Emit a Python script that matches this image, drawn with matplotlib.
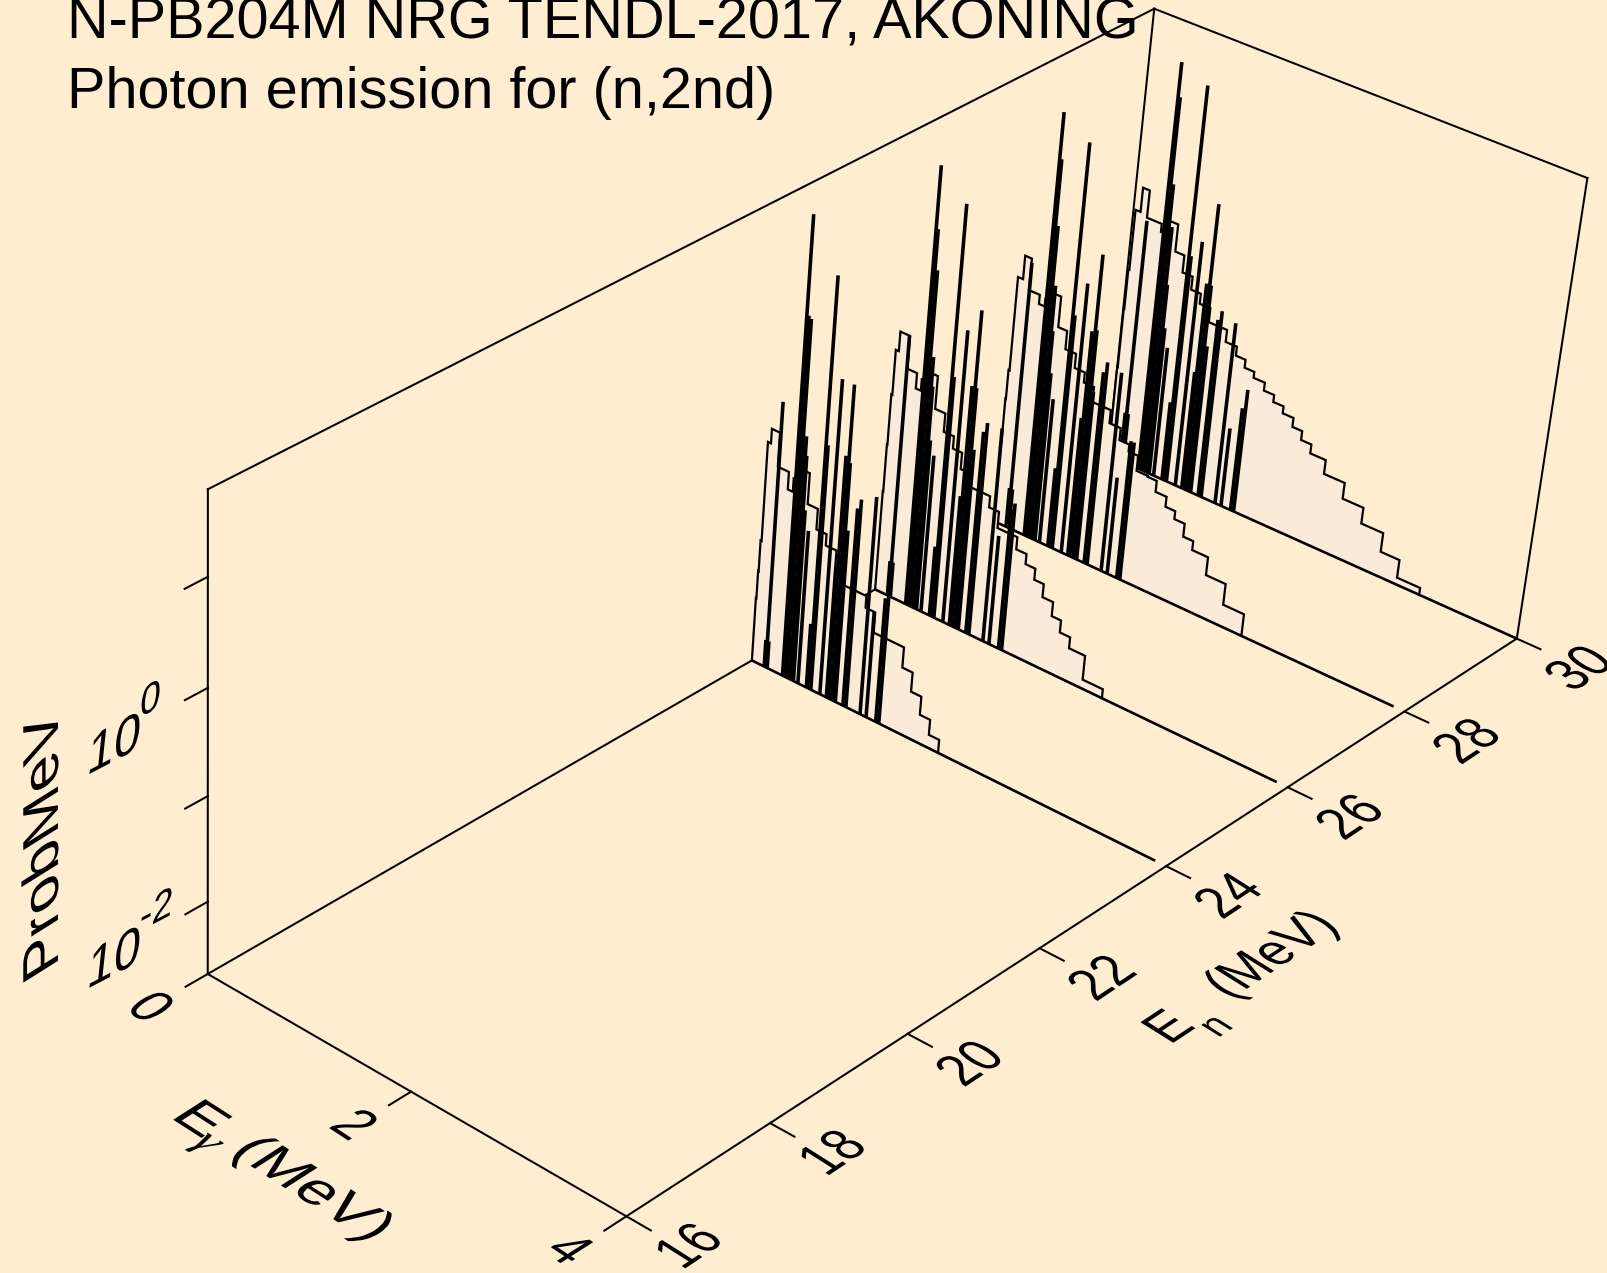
import matplotlib
matplotlib.use('Agg')
import matplotlib.pyplot as plt
import matplotlib.patheffects as pe
from matplotlib.transforms import Affine2D
import numpy as np

plt.rcParams['font.family'] = ['Liberation Sans', 'DejaVu Sans']

BG = '#FFEDD1'
FILL = '#FAEBD9'

# axis ranges
eg_range = (0.0, 4.0)
en_range = (16.0, 30.0)
logp_range = (-2.70, 1.77)

eg_ticks = [0, 2, 4]
en_ticks = [16, 18, 20, 22, 24, 26, 28, 30]
logp_ticks = [-2, -1, 0, 1]

# continuum, log10(prob/MeV) per bin
edges_24 = [0, .005, .01, .02, .05, .13, .24, .29, .35, .44, .54, .64, .745, .84, 1.06, 1.155, 1.45, 1.55, 1.65, 1.75, 1.85]
logp_24 = [-2.07, -1.795, -1.49, -.52, -.38, -.71, -.88, -.75, -.63, -.93, -1.13, -1.24, -1.40, -1.535, -1.65, -1.85, -2.05, -2.24, -2.42, -2.57]

edges_26 = [0, .005, .01, .02, .05, .145, .24, .29, .37, .44, .54, .64, .73, .84, 1.03, 1.126, 1.32, 1.42, 1.515, 1.607, 1.71, 1.80, 1.90, 2.055, 2.25]
logp_26 = [-1.70, -1.23, -.73, -.29, -.10, -.42, -.57, -.46, -.36, -.68, -.86, -.98, -1.14, -1.27, -1.38, -1.54, -1.66, -1.76, -1.87, -2.0, -2.14, -2.26, -2.37, -2.61]

edges_28 = [0, .005, .01, .02, .07, .136, .243, .30, .365, .447, .535, .64, .74, .84, 1.02, 1.13, 1.226, 1.32, 1.43, 1.518, 1.625, 1.72, 1.82, 1.917, 2.07, 2.26, 2.46]
logp_28 = [-1.89, -1.44, -1.15, -.22, .01, -.30, -.39, -.32, -.23, -.53, -.71, -.85, -.95, -1.10, -1.23, -1.35, -1.42, -1.57, -1.58, -1.69, -1.79, -1.87, -2.0, -2.09, -2.27, -2.48]

edges_30 = [0, .005, .01, .02, .07, .137, .284, .36, .44, .53, .63, .725, .83, 1.01, 1.12, 1.215, 1.31, 1.42, 1.52, 1.62, 1.725, 1.82, 1.92, 2.07, 2.27, 2.47, 2.68, 2.86, 3.08]
logp_30 = [-1.78, -1.18, -.78, -.18, .06, -.21, -.29, -.15, -.42, -.59, -.72, -.82, -.96, -1.08, -1.17, -1.25, -1.31, -1.39, -1.46, -1.53, -1.62, -1.71, -1.80, -1.94, -2.10, -2.26, -2.45, -2.63]

# discrete lines, same energies for every En
line_eg = [.125, .14, .155, .31, .33, .355, .385, .40, .42, .465, .55, .575, .595, .685, .75, .77, .80, .815, .84, .915, .945, 1.085, 1.145, 1.24, 1.27]
line_24 = [-2.43, -.08, -2.43, 1.75, .82, .80, -.3, -.48, -1.0, -1.18, -2.06, 1.30, -.29, .38, -1.4, -.31, .38, -.36, -1.0, -.75, -.65, -.56, -1.65, -1.47, -1.42]
line_26 = [-2.35, -.1, -2.35, 1.59, 1.0, .62, -.2, -.48, -1.0, -1.13, -2.0, 1.34, -.3, .19, -1.4, -.31, .43, -.31, -.9, -.69, -.59, -.58, -1.61, -1.3, -1.23]
line_28 = [-2.3, -.03, -2.3, 1.49, 1.05, .42, -.15, -.59, -1.0, -1.24, -1.9, 1.31, -.35, 0.0, -1.3, -.43, .33, -.40, -1.0, -.77, -.66, -.70, -1.72, -1.31, -1.31]
line_30 = [-2.2, -.24, -2.2, 1.38, 1.05, .21, -.2, -.77, -1.2, -1.38, -1.9, 1.26, -.4, -.22, -1.5, -.6, .2, -.6, -1.2, -.9, -.80, -.86, -1.9, -1.65, -1.45]

spectra = [
    (30, edges_30, logp_30, line_30, 4.0),
    (28, edges_28, logp_28, line_28, 3.9),
    (26, edges_26, logp_26, line_26, 3.9),
    (24, edges_24, logp_24, line_24, 3.9),
]

# camera: box corners (Eg, En, logP as 0-1) and where they land on the page
corners = [(0, 0, 0), (1, 0, 0), (1, 1, 0), (0, 1, 0), (0, 0, 1), (0, 1, 1), (1, 1, 1)]
page = [(208, 974), (626, 1216.5), (1517, 637.5), (1108, 456), (208, 489), (1154, 8), (1587.5, 179)]

rows = []
for (u, v, w), (px, py) in zip(corners, page):
    px, py = px / 1000, py / 1000
    rows.append([u, v, w, 1, 0, 0, 0, 0, -px * u, -px * v, -px * w, -px])
    rows.append([0, 0, 0, 0, u, v, w, 1, -py * u, -py * v, -py * w, -py])
camera = np.linalg.svd(np.array(rows))[2][-1].reshape(3, 4)


def project(eg, en, logp):
    eg, en, logp = np.broadcast_arrays(np.asarray(eg, float), np.asarray(en, float), np.asarray(logp, float))
    u = (eg - eg_range[0]) / (eg_range[1] - eg_range[0])
    v = (en - en_range[0]) / (en_range[1] - en_range[0])
    w = (logp - logp_range[0]) / (logp_range[1] - logp_range[0])
    q = camera @ np.array([u, v, w, np.ones_like(u)])
    return 1000 * q[0] / q[2], 1000 * q[1] / q[2]


class Skew(pe.AbstractPathEffect):
    # the 3D text is sheared, not just rotated
    def __init__(self, base, up):
        super().__init__()
        self.base = base
        self.up = up

    def draw_path(self, renderer, gc, tpath, affine, rgbFace=None):
        m = affine.get_matrix()
        s = m[0, 0]
        skew = Affine2D(np.array([[self.base[0] * s, self.up[0] * s, m[0, 2]],
                                  [self.base[1] * s, self.up[1] * s, m[1, 2]],
                                  [0, 0, 1]]))
        renderer.draw_path(gc, tpath, skew, rgbFace)


def skew_text(x, y, s, base, up, size=43, **kw):
    ax.text(x, y, s, fontsize=size, ha='left', va='baseline', color='black',
            path_effects=[Skew(base, up)], zorder=20, **kw)


fig = plt.figure(figsize=(16.07, 12.73), dpi=100, facecolor=BG)
ax = fig.add_axes([0, 0, 1, 1])
ax.set_xlim(0, 1607)
ax.set_ylim(1273, 0)
ax.axis('off')

eg0, eg1 = eg_range
en0, en1 = en_range
z0, z1 = logp_range
LW = 1.45


def edge(a, b, lw=LW):
    x, y = project([a[0], b[0]], [a[1], b[1]], [a[2], b[2]])
    ax.plot(x, y, color='black', lw=lw, solid_capstyle='projecting', zorder=1)


# box
edge((eg0, en0, z0), (eg1, en0, z0))
edge((eg1, en0, z0), (eg1, en1, z0))
edge((eg0, en0, z0), (eg0, en1, z0))
edge((eg0, en0, z0), (eg0, en0, z1))
edge((eg0, en0, z1), (eg0, en1, z1))
edge((eg0, en1, z0), (eg0, en1, z1))
edge((eg0, en1, z1), (eg1, en1, z1))
edge((eg1, en1, z1), (eg1, en1, z0))

# ticks
for t in eg_ticks:
    edge((t, en0, z0), (t, en0 - 0.30, z0))
for t in en_ticks:
    edge((eg1, t, z0), (eg1 + 0.22, t, z0))
for t in logp_ticks:
    edge((eg0, en0, t), (eg0, en0 - 0.30, t))

# spectra, back to front
for order, (en, edges, logp, lines, tail) in enumerate(spectra):
    layer = 2 + order
    xs = [edges[0]]
    zs = [z0]
    for i, p in enumerate(logp):
        xs += [edges[i], edges[i + 1]]
        zs += [p, p]
    xs.append(edges[-1])
    zs.append(z0)
    px, py = project(xs, en, zs)
    ax.fill(px, py, color=FILL, lw=0, zorder=layer)
    ax.plot(px, py, color='black', lw=1.6, solid_joinstyle='miter', zorder=layer)
    for e, top in zip(line_eg, lines):
        lx, ly = project([e, e], en, [z0, top])
        ax.plot(lx, ly, color='black', lw=2.6, solid_capstyle='butt', zorder=layer)
    bx, by = project([0, tail], en, z0)
    ax.plot(bx, by, color='black', lw=1.9, solid_capstyle='butt', zorder=layer)

# tick labels
eg_base, eg_up = (.70, -.46), (.80, .51)
en_base, en_up = (.66, .44), (-.82, .52)
z_base, z_up = (.80, .42), (.10, .95)

for t in eg_ticks:
    tx, ty = project(t, en0, z0)
    skew_text(tx - 84, ty + 35, str(t), eg_base, eg_up)
for t in en_ticks:
    tx, ty = project(eg1, t, z0)
    skew_text(tx + 56, ty + 54, str(t), en_base, en_up)

for t, sup in [(-2, '-2'), (0, '0')]:
    tx, ty = project(eg0, en0, t)
    skew_text(tx - 122, ty + 88, '10', z_base, z_up)
    skew_text(tx - 122 + 53, ty + 88 - 58, sup, z_base, z_up, size=33)

# axis titles
skew_text(58, 966, 'ProbMeV', (0, 1.05), (-.845, -.53))

title_base, title_up = (.87, -.56), (.78, .50)
skew_text(169, 1117, 'E', title_base, title_up)
skew_text(190, 1143, '\u03b3', title_base, title_up, size=34, family='Liberation Serif', style='italic')
skew_text(229, 1152, '(MeV)', title_base, title_up)

en_title_base = (.68, .45)
skew_text(1170, 1045, 'E', en_title_base, (-.80, .50))
skew_text(1218, 1038, 'n', en_title_base, (-.80, .50), size=32)
skew_text(1230, 1000, '(MeV)', en_title_base, (-.80, .50))

# title, first line runs off the top of the page
ax.text(67, 39, 'N-PB204M NRG TENDL-2017, AKONING', fontsize=41.5, ha='left', va='baseline', color='black')
ax.text(67, 108, 'Photon emission for (n,2nd)', fontsize=41.5, ha='left', va='baseline', color='black')

fig.savefig('out.png', dpi=100, facecolor=BG)
